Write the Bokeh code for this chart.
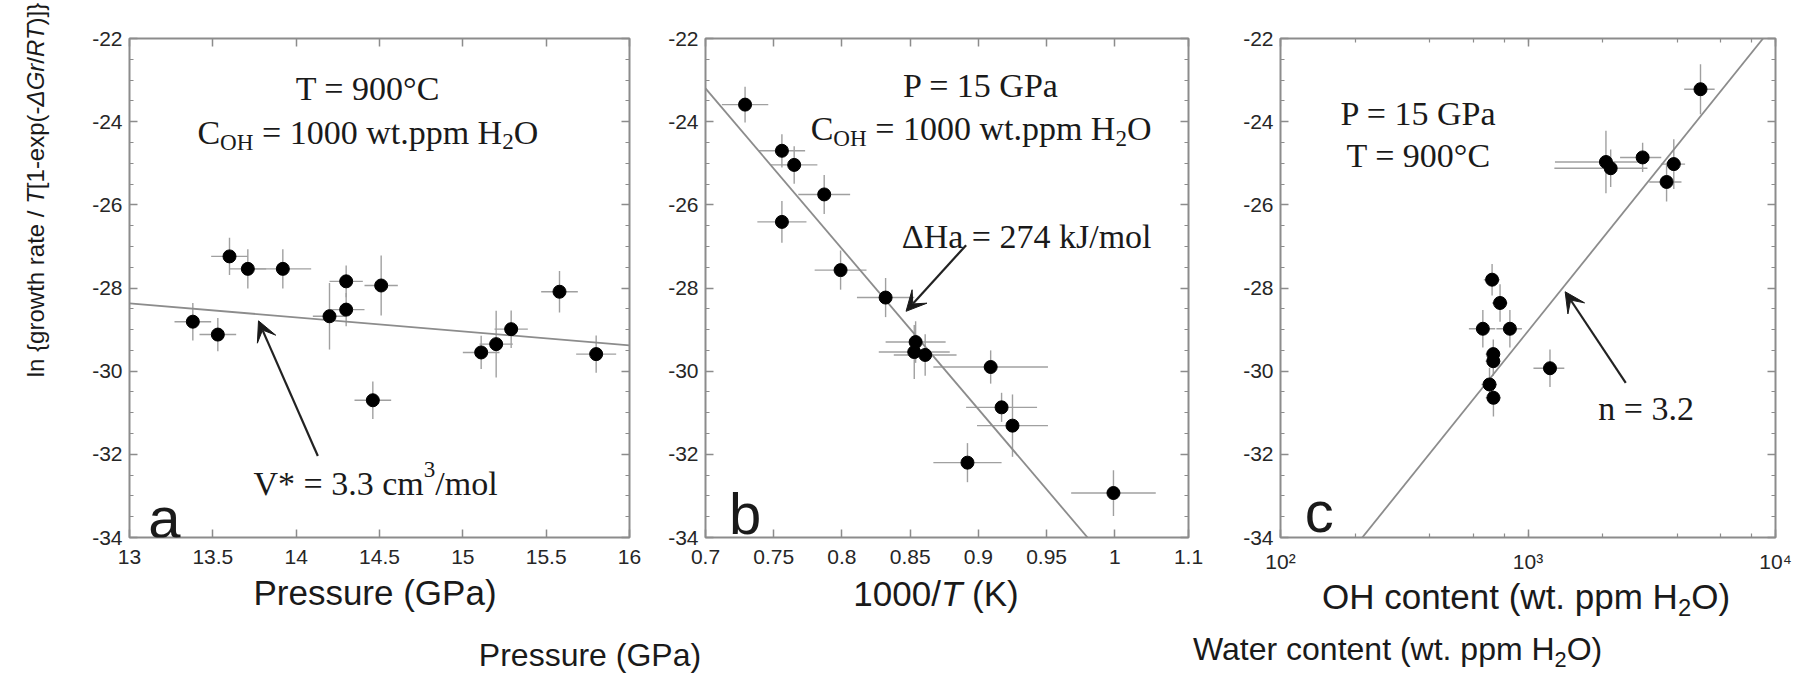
import numpy as np
from bokeh.plotting import figure
from bokeh.models import (Label, Arrow, VeeHead, FixedTicker, LinearAxis, LogAxis,
                          LogTicker, Range1d, CustomJSTickFormatter, Div)
from bokeh.layouts import row, column
from bokeh.embed import file_html
from bokeh.resources import INLINE

# ---------------- data ----------------
# panel a : pressure dependence
P_GPa = [13.38, 13.53, 13.60, 13.71, 13.92, 14.20, 14.30, 14.30, 14.51, 14.46, 15.11, 15.20, 15.29, 15.58, 15.80]
lnA = [-28.81, -29.12, -27.24, -27.54, -27.54, -28.68, -27.84, -28.52, -27.94, -30.70, -29.55, -29.35, -28.99, -28.09, -29.59]
P_err = [0.11, 0.11, 0.11, 0.11, 0.17, 0.10, 0.10, 0.11, 0.10, 0.11, 0.11, 0.10, 0.10, 0.11, 0.12]
lnA_err = [0.45, 0.40, 0.45, 0.47, 0.47, 0.80, 0.38, 0.40, 0.72, 0.45, 0.40, 0.80, 0.45, 0.50, 0.45]
fit_a_P = [13.0, 16.0]
fit_a_ln = [-28.37, -29.38]

# panel b : temperature dependence
invT = [0.729, 0.756, 0.765, 0.787, 0.756, 0.799, 0.832, 0.854, 0.853, 0.861, 0.909, 0.917, 0.925, 0.892, 0.999]
lnB = [-23.59, -24.70, -25.04, -25.75, -26.41, -27.57, -28.23, -29.30, -29.54, -29.61, -29.90, -30.87, -31.31, -32.20, -32.93]
invT_err = [0.017, 0.017, 0.017, 0.019, 0.018, 0.019, 0.021, 0.022, 0.026, 0.023, 0.042, 0.026, 0.026, 0.025, 0.031]
lnB_err = [0.43, 0.40, 0.45, 0.47, 0.50, 0.47, 0.47, 0.50, 0.65, 0.50, 0.40, 0.35, 0.75, 0.47, 0.55]
fit_b_invT = [0.70, 0.98]
fit_b_ln = [-23.2, -34.0]

# panel c : water content dependence
COH = [4977, 2065, 2158, 2905, 3882, 3630, 716, 771, 657, 845, 724, 724, 699, 725, 1227]
lnC = [-23.22, -24.97, -25.12, -24.86, -25.02, -25.45, -27.80, -28.36, -28.98, -28.98, -29.59, -29.76, -30.32, -30.64, -29.93]
COH_err = [700, 780, 880, 550, 430, 540, 53, 55, 80, 100, 50, 50, 50, 50, 175]
lnC_err = [0.60, 0.75, 0.45, 0.35, 0.60, 0.47, 0.38, 0.45, 0.45, 0.45, 0.35, 0.35, 0.40, 0.45, 0.45]
fit_c_COH = [214, 8905]
fit_c_ln = [-34.0, -22.0]

# ticks
y_ticks = [-34, -32, -30, -28, -26, -24, -22]
y_labels = ["-34", "-32", "-30", "-28", "-26", "-24", "-22"]
y_minor = [-34 + 0.5 * i for i in range(25)]
a_xticks = [13, 13.5, 14, 14.5, 15, 15.5, 16]
a_xlabels = ["13", "13.5", "14", "14.5", "15", "15.5", "16"]
b_xticks = [0.7, 0.75, 0.8, 0.85, 0.9, 0.95, 1.0, 1.054]
b_xlabels = ["0.7", "0.75", "0.8", "0.85", "0.9", "0.95", "1", "1.1"]
c_xticks = [100, 1000, 10000]
c_xlabels = ["10²", "10³", "10⁴"]

# annotation arrows (start -> end, data units)
arrow_a = [14.13, -32.04, 13.774, -28.79]
arrow_b = [0.891, -26.97, 0.847, -28.56]
arrow_c = [2483, -30.28, 1413, -28.09]

# titles (HTML markup for italics / subscripts)
Y_TITLE = "ln {growth rate / <i>T</i>[1-exp(-<i>ΔGr</i>/<i>RT</i>)]}"
X_TITLES = ["Pressure (GPa)", "1000/<i>T</i> (K)", "OH content (wt. ppm H<sub>2</sub>O)"]
CAPTIONS = ["Pressure (GPa)", "Water content (wt. ppm H<sub>2</sub>O)"]

# ---------------- helpers ----------------
SERIF = {' ': 250, '=': 564, '.': 250, '*': 500, '/': 278, '°': 400, 'C': 667, 'G': 722, 'H': 722,
         'O': 722, 'P': 556, 'T': 611, 'V': 722, 'J': 389, 'a': 444, 'c': 444, 'k': 500, 'l': 278,
         'm': 778, 'n': 500, 'o': 500, 'p': 500, 't': 278, 'w': 722, 'Δ': 612, 'b': 500}
for d in "0123456789":
    SERIF[d] = 500

TXT = "#1a1a1a"
GRAY = "#8c8c8c"
ROW_H = 575
FONT_SANS = "'Liberation Sans', Arial, sans-serif"


def tw(text, table, size):
    return sum(table.get(ch, 556) for ch in text) * size / 1000.0


def place_runs(fig, runs, x0, y0, fx, fy, size, font, table=SERIF, align="center", color=TXT):
    sizes = [size * 0.68 if k in ("sub", "sup") else size for _, k in runs]
    ws = [tw(t, table, s) for (t, _), s in zip(runs, sizes)]
    off = -sum(ws) / 2 if align == "center" else 0.0
    for (t, k), s, w in zip(runs, sizes, ws):
        shift = -0.28 * size if k == "sub" else (0.42 * size if k == "sup" else 0.0)
        lead = len(t) - len(t.lstrip(" "))
        txt = t.strip(" ")
        o = off + tw(" " * lead, table, s)
        fig.add_layout(Label(x=fx(x0, o), y=fy(y0, shift), text=txt, text_font=font,
                             text_font_size=f"{s:.1f}px",
                             text_font_style="italic" if k == "i" else "normal",
                             text_color=color, text_align="left", text_baseline="alphabetic"))
        off += w


def lin(k):
    return lambda v, px: v + px / k


def logx(k):
    return lambda v, px: v * 10 ** (px / k)


def fmt(tick_vals, tick_texts):
    return CustomJSTickFormatter(args=dict(tv=tick_vals, tl=tick_texts), code="""
        let best = 0, bd = 1e9;
        for (let i = 0; i < tv.length; i++) {
            const d = Math.abs(tv[i] - tick);
            if (d < bd) { bd = d; best = i; }
        }
        return tl[best];
    """)


def style_axis(ax, standoff=7, blank=False):
    ax.axis_line_color = None
    ax.major_tick_line_color = GRAY
    ax.major_tick_line_width = 1.5
    ax.minor_tick_line_color = GRAY
    ax.minor_tick_line_width = 1.2
    ax.major_tick_in = 8
    ax.major_tick_out = 0
    ax.minor_tick_in = 4
    ax.minor_tick_out = 0
    ax.major_label_text_font = "Liberation Sans"
    ax.major_label_text_font_size = "21px"
    ax.major_label_text_color = "#262626"
    ax.major_label_standoff = standoff
    if blank:
        ax.formatter = CustomJSTickFormatter(code="return '';")
        ax.major_label_text_font_size = "0px"
        ax.major_label_standoff = 0


def make_panel(xr, w, bl, br, log=False):
    # frames of the three panels are aligned by the row: top 38, bottom 537
    p = figure(title=None, width=w, height=ROW_H, x_range=xr, y_range=Range1d(-34, -22),
               x_axis_type="log" if log else "linear", toolbar_location=None,
               output_backend="svg", min_border_left=bl, min_border_top=38,
               min_border_right=br, min_border_bottom=ROW_H - 537, background_fill_color="white",
               border_fill_color="white", outline_line_color=GRAY, outline_line_width=2)
    p.grid.visible = False
    return p


def add_frame_axes(p, xticker_factory, xfmt, log=False, xstandoff=10):
    p.xaxis.ticker = xticker_factory()
    p.xaxis.formatter = xfmt
    p.yaxis.ticker = FixedTicker(ticks=y_ticks, minor_ticks=y_minor)
    p.yaxis.formatter = fmt(y_ticks, y_labels)
    style_axis(p.xaxis[0], standoff=xstandoff)
    style_axis(p.yaxis[0], standoff=7)
    top = LogAxis(ticker=xticker_factory()) if log else LinearAxis(ticker=xticker_factory())
    style_axis(top, blank=True)
    p.add_layout(top, "above")
    right = LinearAxis(ticker=FixedTicker(ticks=y_ticks, minor_ticks=y_minor))
    style_axis(right, blank=True)
    p.add_layout(right, "right")


def draw_points(p, x, y, xerr, yerr, fx_line, fy_line):
    x = np.array(x, float); y = np.array(y, float)
    xe = np.array(xerr, float); ye = np.array(yerr, float)
    p.segment(x0=x - xe, y0=y, x1=x + xe, y1=y, line_color="#a0a0a0", line_width=1.4)
    p.segment(x0=x, y0=y - ye, x1=x, y1=y + ye, line_color="#a0a0a0", line_width=1.4)
    p.line(fx_line, fy_line, line_color=GRAY, line_width=1.8)
    p.scatter(x, y, size=13, color="black")


def add_arrow(p, a):
    p.add_layout(Arrow(end=VeeHead(size=20, fill_color="#1a1a1a", line_color="#1a1a1a", line_width=1),
                       x_start=a[0], y_start=a[1], x_end=a[2], y_end=a[3],
                       line_color="#222222", line_width=2.2))


def span(html, x, baseline, size, top0, center=True, rotate=False):
    # absolutely positioned text; 'baseline' in page px, top0 = page y of the container
    if rotate:
        return (f'<span style="position:absolute;left:{x}px;top:{baseline - top0}px;'
                f'transform:translate(-50%,-50%) rotate(-90deg);white-space:nowrap;'
                f'font-size:{size}px;line-height:1;">{html}</span>')
    top = baseline - 0.8465 * size - top0
    tr = "transform:translateX(-50%);" if center else ""
    return (f'<span style="position:absolute;left:{x}px;top:{top:.1f}px;{tr}white-space:nowrap;'
            f'font-size:{size}px;line-height:1;">{html}</span>')


SUBCSS = "<style>sub{font-size:0.68em;vertical-align:-0.3em;line-height:0;}</style>"


def html_box(w, h, inner):
    return (SUBCSS + f'<div style="position:relative;width:{w}px;height:{h}px;margin:0;padding:0;'
            f'font-family:{FONT_SANS};color:{TXT};">{inner}</div>')


# page layout (pixels): y-title 0..60, panels a 60..660, b 660..1240, c 1240..1808,
# panel row 0..575, titles / captions 575..675

# ---------------- y title ----------------
ydiv = Div(text=html_box(60, ROW_H, span(Y_TITLE, 36, 190, 24, 0, rotate=True)),
           width=60, height=ROW_H, margin=0)

# ---------------- panel a ----------------
fa = make_panel(Range1d(13, 16), 600, 69, 31)
add_frame_axes(fa, lambda: FixedTicker(ticks=a_xticks, minor_ticks=[]), fmt(a_xticks, a_xlabels),
               xstandoff=12)
draw_points(fa, P_GPa, lnA, P_err, lnA_err, fit_a_P, fit_a_ln)
add_arrow(fa, arrow_a)
fxa, fya = lin(500 / 3.0), lin(499 / 12.0)
place_runs(fa, [("T = 900°C", "n")], 14.43, -23.2, fxa, fya, 34, "Liberation Serif")
place_runs(fa, [("C", "n"), ("OH", "sub"), (" = 1000 wt.ppm H", "n"), ("2", "sub"), ("O", "n")],
           14.43, -24.26, fxa, fya, 34, "Liberation Serif")
place_runs(fa, [("V* = 3.3 cm", "n"), ("3", "sup"), ("/mol", "n")], 14.476, -32.70, fxa, fya, 34,
           "Liberation Serif")
fa.add_layout(Label(x=13.21, y=-33.51, text="a", text_font="Liberation Sans", text_font_size="58px",
                    text_color=TXT, text_align="center", text_baseline="alphabetic"))

# ---------------- panel b ----------------
fb = make_panel(Range1d(0.7, 1.054), 580, 45, 52)
add_frame_axes(fb, lambda: FixedTicker(ticks=b_xticks, minor_ticks=[]), fmt(b_xticks, b_xlabels),
               xstandoff=12)
draw_points(fb, invT, lnB, invT_err, lnB_err, fit_b_invT, fit_b_ln)
add_arrow(fb, arrow_b)
fxb, fyb = lin(483 / 0.354), lin(499 / 12.0)
place_runs(fb, [("P = 15 GPa", "n")], 0.902, -23.13, fxb, fyb, 34, "Liberation Serif")
place_runs(fb, [("C", "n"), ("OH", "sub"), (" = 1000 wt.ppm H", "n"), ("2", "sub"), ("O", "n")],
           0.902, -24.17, fxb, fyb, 34, "Liberation Serif")
place_runs(fb, [("ΔHa = 274 kJ/mol", "n")], 0.935, -26.77, fxb, fyb, 34, "Liberation Serif")
fb.add_layout(Label(x=0.729, y=-33.42, text="b", text_font="Liberation Sans", text_font_size="58px",
                    text_color=TXT, text_align="center", text_baseline="alphabetic"))

# ---------------- panel c ----------------
fc = make_panel(Range1d(100, 10000), 568, 37, 33, log=True)
add_frame_axes(fc, lambda: LogTicker(), fmt(c_xticks, c_xlabels), log=True, xstandoff=12)
draw_points(fc, COH, lnC, COH_err, lnC_err, fit_c_COH, fit_c_ln)
add_arrow(fc, arrow_c)
fxc, fyc = logx(249.0), lin(499 / 12.0)
place_runs(fc, [("P = 15 GPa", "n")], 360, -23.81, fxc, fyc, 34, "Liberation Serif")
place_runs(fc, [("T = 900°C", "n")], 360, -24.82, fxc, fyc, 34, "Liberation Serif")
place_runs(fc, [("n = 3.2", "n")], 2992, -30.9, fxc, fyc, 34, "Liberation Serif")
fc.add_layout(Label(x=143.5, y=-33.37, text="c", text_font="Liberation Sans", text_font_size="58px",
                    text_color=TXT, text_align="center", text_baseline="alphabetic"))

# ---------------- axis titles and captions ----------------
inner = "".join([
    span(X_TITLES[0], 375, 605, 35, ROW_H),
    span(X_TITLES[1], 936, 606, 35, ROW_H),
    span(X_TITLES[2], 1526, 609, 35, ROW_H),
    span(CAPTIONS[0], 590, 666, 32, ROW_H),
    span(CAPTIONS[1], 1193, 660, 32, ROW_H, center=False),
])
bdiv = Div(text=html_box(1808, 100, inner), width=1808, height=100, margin=0)

layout = column(row(ydiv, fa, fb, fc), bdiv)
open("out.html", "w").write(file_html(layout, INLINE))
